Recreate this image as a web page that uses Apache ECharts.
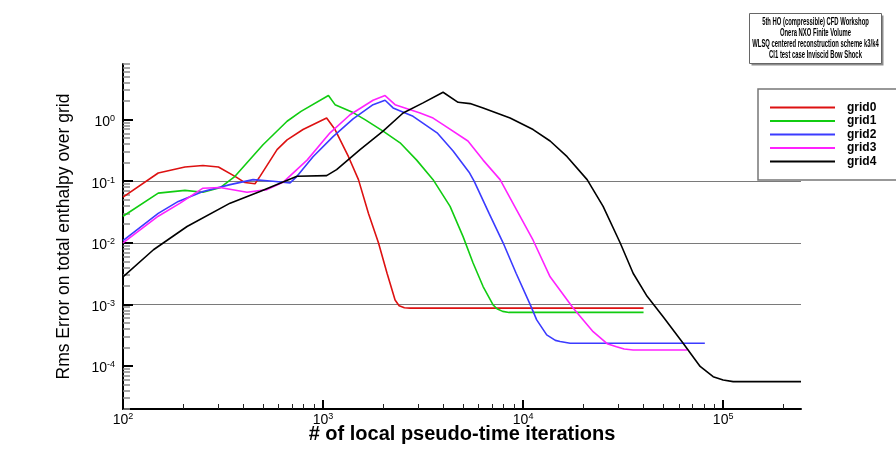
<!DOCTYPE html>
<html>
<head>
<meta charset="utf-8">
<script src="https://cdn.jsdelivr.net/npm/echarts@6/dist/echarts.min.js"></script>
<style>
html,body{margin:0;padding:0;background:#fff;}
#chart{width:896px;height:454px;}
</style>
</head>
<body>
<div id="chart"></div>
<script>
// ---- data (x = iterations, y = rms error) ----
const grid0 = [[100,0.055],[150,0.136],[204,0.17],[251,0.18],[300,0.17],[363,0.12],[407,0.095],[457,0.091],[484,0.12],[589,0.325],[661,0.47],[794,0.69],[1042,1.06],[1148,0.69],[1340,0.25],[1503,0.106],[1687,0.03],[1892,0.01],[2089,0.0032],[2291,0.00118],[2400,0.00095],[2550,0.00088],[2723,0.00087],[40000,0.00087]];
const grid1 = [[100,0.027],[150,0.064],[204,0.071],[251,0.066],[305,0.078],[363,0.12],[501,0.39],[661,0.94],[776,1.36],[1064,2.46],[1148,1.75],[1413,1.3],[1620,1.0],[1995,0.65],[2427,0.42],[2938,0.22],[3548,0.106],[4315,0.039],[5012,0.0126],[5623,0.0047],[6310,0.00195],[7079,0.00098],[7400,0.00085],[7900,0.00077],[8511,0.00074],[40000,0.00074]];
const grid2 = [[100,0.0108],[150,0.03],[189,0.047],[251,0.068],[343,0.088],[447,0.106],[562,0.1],[684,0.094],[741,0.12],[891,0.25],[1122,0.53],[1413,1.03],[1778,1.75],[2042,2.06],[2239,1.55],[2818,1.13],[3715,0.61],[4467,0.31],[5370,0.14],[5690,0.1],[6761,0.03],[7943,0.01],[9226,0.0032],[10839,0.001],[11695,0.00056],[13122,0.00032],[14500,0.00026],[15311,0.00025],[17179,0.000234],[81000,0.000234]];
const grid3 = [[100,0.01],[150,0.027],[193,0.044],[251,0.077],[305,0.079],[417,0.066],[525,0.073],[631,0.096],[832,0.22],[1084,0.61],[1365,1.2],[1778,2.06],[2042,2.46],[2291,1.75],[3055,1.28],[3548,1.06],[3981,0.83],[5300,0.45],[6310,0.22],[7674,0.106],[9290,0.034],[11220,0.011],[13646,0.0028],[17783,0.00087],[22387,0.00036],[26303,0.00023],[29309,0.000205],[32000,0.000188],[35481,0.000182],[66000,0.000182]];
const grid4 = [[100,0.0028],[142,0.0077],[209,0.0184],[343,0.044],[484,0.068],[741,0.12],[1042,0.123],[1169,0.154],[1531,0.325],[1995,0.65],[2512,1.28],[3162,1.87],[3981,2.78],[4732,1.91],[5433,1.82],[6310,1.55],[8610,1.06],[11220,0.69],[13646,0.45],[16596,0.25],[20893,0.106],[25119,0.039],[30549,0.01],[35481,0.0032],[41687,0.00135],[50119,0.00063],[63096,0.000234],[76736,0.000098],[89125,0.000067],[100000,0.000059],[112202,0.0000556],[245000,0.0000556]];

const seriesNames = ['grid0','grid1','grid2','grid3','grid4'];
const xMajorTicks = [100, 1000, 10000, 100000];
const xMinorTicks = [200,300,400,500,600,700,800,900,2000,3000,4000,5000,6000,7000,8000,9000,20000,30000,40000,50000,60000,70000,80000,90000,200000];
const yMajorTicks = [0.0001, 0.001, 0.01, 0.1, 1];
const yMinorTicks = [0.00002,0.00003,0.00004,0.00005,0.00006,0.00007,0.00008,0.00009,
  0.0002,0.0003,0.0004,0.0005,0.0006,0.0007,0.0008,0.0009,
  0.002,0.003,0.004,0.005,0.006,0.007,0.008,0.009,
  0.02,0.03,0.04,0.05,0.06,0.07,0.08,0.09,
  0.2,0.3,0.4,0.5,0.6,0.7,0.8,0.9,
  2,3,4,5,6,7,8];
const X_MIN = 100, X_MAX = 245000;
const Y_MIN = 0.00002, Y_MAX = 8;
const titleLines = ['5th HO (compressible) CFD Workshop','Onera NXO Finite Volume','WLSQ centered reconstruction scheme k3/k4','CI1 test case Inviscid Bow Shock'];
const xName = '# of local pseudo-time iterations';
const yName = 'Rms Error on total enthalpy over grid';

const colors = ['#dd1111','#11cc11','#3b3bff','#ff22ff','#000000'];
const FONT = 'Liberation Sans, Arial, sans-serif';

function powLabel(v){
  const e = Math.round(Math.log10(v));
  return '{b|10}{s|' + e + '}';
}
const labelRich = {
  b: {fontSize: 14, fontFamily: FONT, color: '#000', lineHeight: 16},
  s: {fontSize: 9, fontFamily: FONT, color: '#000', verticalAlign: 'top', lineHeight: 10}
};

const chart = echarts.init(document.getElementById('chart'), null, {renderer: 'canvas'});
const data = [grid0, grid1, grid2, grid3, grid4];

chart.setOption({
  backgroundColor: '#fff',
  animation: false,
  graphic: [{
    type: 'group', left: 749, top: 13, z: 10,
    children: [
      {type: 'rect', shape: {x: 2, y: 2, width: 132, height: 50}, style: {fill: 'rgba(0,0,0,0.45)'}},
      {type: 'rect', shape: {x: 0, y: 0, width: 132, height: 50}, style: {fill: '#fff', stroke: '#666', lineWidth: 1}},
      {type: 'text', x: 66, y: 3.5, scaleX: 0.56,
       style: {text: titleLines.join('\n'), font: 'bold 10.5px ' + FONT, align: 'center', verticalAlign: 'top', lineHeight: 10.8, fill: '#000'}}
    ]
  }],
  legend: {
    data: seriesNames,
    orient: 'vertical',
    left: 758, top: 89,
    padding: [12, 40, 12, 12],
    itemGap: 0.5,
    itemWidth: 65, itemHeight: 2,
    icon: 'rect',
    borderColor: '#777', borderWidth: 1.5, backgroundColor: '#fff',
    textStyle: {fontSize: 12, fontWeight: 'bold', fontFamily: FONT, color: '#000', lineHeight: 13, padding: [0,0,0,7]}
  },
  grid: {left: 123, right: 95, top: 64, bottom: 45, containLabel: false, outerBoundsMode: 'none'},
  xAxis: [
    {
      type: 'log', logBase: 10, min: X_MIN, max: X_MAX, position: 'bottom',
      name: xName, nameLocation: 'middle', nameGap: 15.5, nameMoveOverlap: false,
      nameTextStyle: {fontSize: 20, fontWeight: 'bold', fontFamily: FONT, color: '#000'},
      axisLine: {show: true, onZero: false, lineStyle: {color: '#000', width: 2}},
      axisTick: {show: true, inside: true, length: 9, customValues: xMajorTicks, lineStyle: {color: '#000', width: 2}},
      axisLabel: {show: true, customValues: xMajorTicks, margin: 3, formatter: powLabel, rich: labelRich},
      splitLine: {show: false}, minorTick: {show: false}
    },
    {
      type: 'log', logBase: 10, min: X_MIN, max: X_MAX, position: 'bottom',
      axisLine: {show: false},
      axisTick: {show: true, inside: true, length: 5, customValues: xMinorTicks, lineStyle: {color: '#222', width: 1}},
      axisLabel: {show: false}, splitLine: {show: false}
    }
  ],
  yAxis: [
    {
      type: 'log', logBase: 10, min: Y_MIN, max: Y_MAX, position: 'left',
      name: yName, nameLocation: 'middle', nameGap: 50, nameRotate: 90, nameMoveOverlap: false,
      nameTextStyle: {fontSize: 17.5, fontFamily: FONT, color: '#000'},
      axisLine: {show: true, onZero: false, lineStyle: {color: '#000', width: 2}},
      axisTick: {show: true, inside: true, length: 10, customValues: yMajorTicks, lineStyle: {color: '#000', width: 2}},
      axisLabel: {show: true, customValues: yMajorTicks, margin: 8, padding: [5, 0, 0, 0], formatter: powLabel, rich: labelRich},
      splitLine: {show: true, showMinLine: false, showMaxLine: false, lineStyle: {color: '#7a7a7a', width: 1.2}}
    },
    {
      type: 'log', logBase: 10, min: Y_MIN, max: Y_MAX, position: 'left',
      axisLine: {show: false},
      axisTick: {show: true, inside: true, length: 7, customValues: yMinorTicks, lineStyle: {color: '#8a8a8a', width: 1.5}},
      axisLabel: {show: false}, splitLine: {show: false}
    }
  ],
  series: seriesNames.map((n, i) => ({
    name: n, type: 'line', xAxisIndex: 0, yAxisIndex: 0,
    data: data[i], showSymbol: false, symbol: 'none', smooth: false,
    lineStyle: {color: colors[i], width: 1.6},
    itemStyle: {color: colors[i]}, z: 3 + (i === 4 ? 1 : 0)
  }))
});
</script>
</body>
</html>
